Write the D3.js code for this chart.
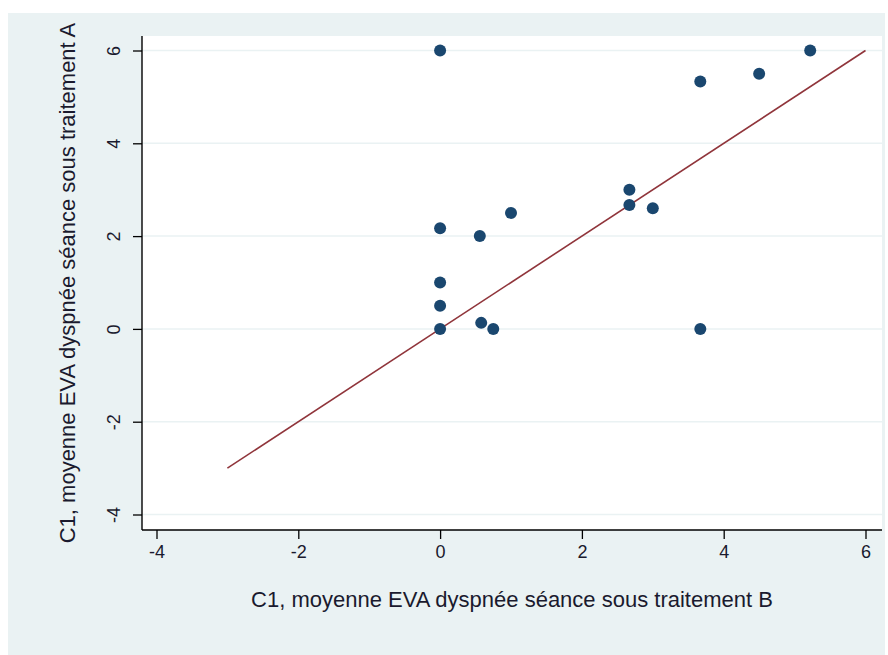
<!DOCTYPE html>
<html>
<head>
<meta charset="utf-8">
<script src="https://cdn.jsdelivr.net/npm/d3@7"></script>
<style>
  html, body { margin: 0; padding: 0; background: #ffffff; }
  svg { display: block; font-family: "Liberation Sans", Arial, sans-serif; }
</style>
</head>
<body>
<svg id="chart" width="888" height="655"></svg>
<script>
// Data
const traitementB = [0, 3.67, 4.5, 5.22, 2.67, 2.67, 3.0, 1.0, 0, 0.56, 0, 0, 0, 0.58, 0.75, 3.67];
const traitementA = [6, 5.33, 5.5, 6.0, 3.0, 2.67, 2.6, 2.5, 2.17, 2.0, 1.0, 0.5, 0, 0.13, 0, 0];
const xTicks = [-4, -2, 0, 2, 4, 6];
const yTicks = [-4, -2, 0, 2, 4, 6];
const fitLineX = [-3, 6];   // y = x reference line
const xTitle = "C1, moyenne EVA dyspnée séance sous traitement B";
const yTitle = "C1, moyenne EVA dyspnée séance sous traitement A";

const svg = d3.select("#chart");
const outer = { x: 8, y: 13, w: 877, h: 642 };
const plot = { left: 142, right: 882, top: 36, bottom: 530 };

svg.append("rect").attr("x", outer.x).attr("y", outer.y)
  .attr("width", outer.w).attr("height", outer.h).attr("fill", "#eaf2f3");
svg.append("rect").attr("x", plot.left).attr("y", plot.top)
  .attr("width", plot.right - plot.left).attr("height", plot.bottom - plot.top).attr("fill", "#ffffff");

const x = d3.scaleLinear().domain([-4, 6]).range([156.5, 865.5]);
const y = d3.scaleLinear().domain([-4, 6]).range([514.5, 50.5]);

// gridlines
svg.append("g").selectAll("line").data(yTicks).join("line")
  .attr("x1", plot.left).attr("x2", plot.right)
  .attr("y1", d => y(d)).attr("y2", d => y(d))
  .attr("stroke", "#eaf2f3").attr("stroke-width", 1.5);

// axes
const xAxis = d3.axisBottom(x).tickValues(xTicks).tickSize(9).tickPadding(6).tickSizeOuter(0);
const gx = svg.append("g").attr("transform", `translate(0,${plot.bottom})`).call(xAxis);
gx.select(".domain").attr("d", `M${plot.left},0H${plot.right}`).attr("stroke", "#000").attr("stroke-width", 1.4);
gx.selectAll(".tick line").attr("stroke", "#000").attr("stroke-width", 1.3);
gx.selectAll(".tick text").attr("font-size", 18).attr("fill", "#1a1a2e")
  .attr("font-family", "Liberation Sans, Arial, sans-serif").text(d => d < 0 ? "-" + Math.abs(d) : d);

const yAxis = d3.axisLeft(y).tickValues(yTicks).tickSize(9).tickPadding(6).tickSizeOuter(0);
const gy = svg.append("g").attr("transform", `translate(${plot.left},0)`).call(yAxis);
gy.select(".domain").attr("d", `M0,${plot.top}V${plot.bottom}`).attr("stroke", "#000").attr("stroke-width", 1.4);
gy.selectAll(".tick line").attr("stroke", "#000").attr("stroke-width", 1.3);
gy.selectAll(".tick text")
  .attr("font-size", 18).attr("fill", "#1a1a2e")
  .attr("font-family", "Liberation Sans, Arial, sans-serif")
  .attr("x", null).attr("dy", null)
  .attr("text-anchor", "middle")
  .attr("transform", "translate(-22,0) rotate(-90)")
  .text(d => d < 0 ? "-" + Math.abs(d) : d);

// reference line y = x
svg.append("line")
  .attr("x1", x(fitLineX[0])).attr("y1", y(fitLineX[0]))
  .attr("x2", x(fitLineX[1])).attr("y2", y(fitLineX[1]))
  .attr("stroke", "#90353b").attr("stroke-width", 1.6);

// points
svg.append("g").selectAll("circle").data(traitementB.map((b, i) => [b, traitementA[i]])).join("circle")
  .attr("cx", d => x(d[0])).attr("cy", d => y(d[1])).attr("r", 6)
  .attr("fill", "#1a476f");

// titles
svg.append("text").attr("x", (plot.left + plot.right) / 2).attr("y", 607)
  .attr("text-anchor", "middle").attr("font-size", 22).attr("fill", "#1a1a2e").text(xTitle);
svg.append("text").attr("transform", `translate(75,${(plot.top + plot.bottom) / 2}) rotate(-90)`)
  .attr("text-anchor", "middle").attr("font-size", 22).attr("fill", "#1a1a2e").text(yTitle);
</script>
</body>
</html>
